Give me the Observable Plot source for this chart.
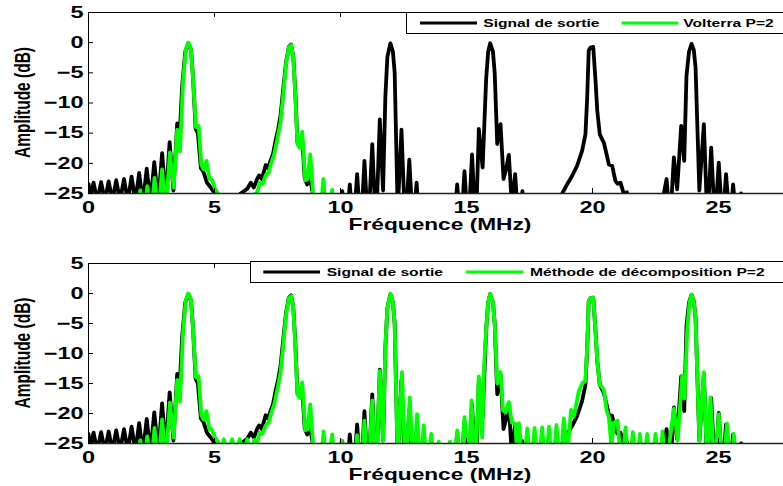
<!DOCTYPE html>
<html><head><meta charset="utf-8">
<script src="https://cdn.jsdelivr.net/npm/d3@7"></script>
<script src="https://cdn.jsdelivr.net/npm/@observablehq/plot@0.6"></script>
<style>
html,body{margin:0;padding:0;background:#fff;overflow:hidden;}
#chart{width:783px;}
#chart svg{display:block;overflow:hidden;}
</style></head><body><div id="chart"></div>
<script>
const xTicks = [0, 5, 10, 15, 20, 25];
const yTicks = [5, 0, -5, -10, -15, -20, -25];
const xLabel = "Fréquence (MHz)";
const yLabel = "Amplitude (dB)";
const legendTop = ["Signal de sortie", "Volterra P=2"];
const legendBottom = ["Signal de sortie", "Méthode de décomposition P=2"];

// [frequency MHz, amplitude dB] — values below -25 dB fall outside the axes
const signalSortie = [
[0.00,-23.4],[0.07,-25.8],[0.20,-23.2],[0.35,-26.2],[0.50,-23.1],[0.65,-26.2],[0.80,-23.0],[0.95,-26.2],[1.10,-22.8],[1.25,-26.2],[1.41,-22.6],[1.56,-26.3],[1.71,-22.2],[1.86,-26.3],[2.01,-21.6],[2.16,-26.5],[2.31,-20.9],[2.46,-26.5],[2.61,-19.8],[2.77,-26.5],[2.92,-18.3],[3.07,-26],[3.22,-16.5],[3.37,-24.5],[3.52,-13.4],[3.62,-15.2],[3.72,-7],[3.84,-1.5],[3.96,-0.1],[4.07,-1.2],[4.15,-6],[4.25,-14.2],[4.34,-15.0],[4.46,-20.8],[4.56,-21.4],[4.70,-23.2],[4.85,-24.0],[5.05,-25.2],[5.25,-28],[5.6,-32],[5.9,-28],
[6.03,-25.0],[6.18,-24.6],[6.30,-24.2],[6.44,-23.2],[6.56,-24.0],[6.70,-22.5],[6.77,-22.0],[6.88,-22.6],[7.03,-20.3],[7.12,-20.8],[7.22,-19.6],[7.32,-18.5],[7.42,-16.3],[7.52,-14.5],[7.62,-12.1],[7.72,-8],[7.84,-3.2],[7.95,-0.7],[8.04,-0.3],[8.13,-2.5],[8.21,-8.5],[8.29,-16.5],[8.38,-17.2],[8.47,-15.2],[8.58,-22.5],[8.68,-23.5],[8.80,-22.5],[8.92,-25.5],[9.05,-29],[9.5,-32],[9.9,-30],
[10.07,-24.6],[10.22,-31],[10.37,-23.5],[10.51,-31],[10.66,-21.8],[10.81,-31],[10.95,-19.6],[11.10,-31],[11.26,-16.8],[11.41,-31],[11.56,-12.7],[11.69,-24.5],[11.78,-9],[11.86,-2.4],[11.98,-0.1],[12.08,-1.5],[12.15,-5],[12.27,-28],[12.42,-14.4],[12.57,-31],[12.73,-19.4],[12.88,-31],[13.02,-23.2],[13.15,-31],[13.5,-33],[14.0,-33],[14.48,-31],
[14.63,-23.5],[14.78,-31],[14.92,-21.3],[15.07,-31],[15.22,-18.5],[15.37,-31],[15.49,-14.3],[15.64,-20.7],[15.78,-6],[15.86,-1.5],[15.94,-0.1],[16.05,-1.5],[16.12,-5],[16.22,-16.8],[16.35,-13.5],[16.47,-22.6],[16.57,-21],[16.68,-18.6],[16.80,-27],[16.93,-21.8],[17.06,-30],[17.22,-24.6],[17.35,-31],[18.0,-33],[18.6,-28],
[18.80,-25.0],[18.99,-23.5],[19.19,-22.1],[19.39,-20.4],[19.59,-17.9],[19.72,-15.2],[19.79,-9.1],[19.85,-1.3],[19.92,-0.8],[20.03,-0.7],[20.12,-6.3],[20.19,-11.3],[20.29,-15.2],[20.45,-16.6],[20.56,-18.5],[20.65,-20.2],[20.78,-20.4],[20.91,-22.9],[21.00,-23.4],[21.11,-23.2],[21.24,-25.0],[21.37,-24.8],[21.5,-28],[22.0,-33],[22.6,-30],
[22.94,-22.6],[23.08,-30],[23.23,-19.0],[23.36,-24.3],[23.52,-13.8],[23.64,-19.6],[23.73,-5.5],[23.83,-1.5],[23.93,-0.2],[24.02,-1.2],[24.09,-4.1],[24.24,-24.5],[24.42,-13.5],[24.56,-30],[24.71,-17.4],[24.86,-30],[25.01,-19.9],[25.16,-30],[25.30,-21.8],[25.45,-30],[25.58,-23.5],[25.72,-30],[25.90,-25.0],[26.05,-30],[27.58,-33]
];

const volterraP2 = [
[0,-33],[1.85,-30],[2.06,-24.5],[2.2,-29],[2.33,-23.8],[2.48,-29],[2.62,-22.4],[2.77,-29],[2.92,-21.0],[3.07,-28],[3.23,-18.2],[3.38,-24],[3.52,-14.4],[3.63,-18.0],[3.75,-6.5],[3.86,-1.2],[3.96,0],[4.06,-0.9],[4.15,-6],[4.26,-14],[4.37,-13.8],[4.48,-20.3],[4.57,-21.0],[4.68,-19.6],[4.80,-22.6],[4.90,-22.7],[5.02,-24.2],[5.18,-25.3],[5.35,-30],[6.0,-33],[6.45,-30],
[6.58,-25.2],[6.70,-24.8],[6.80,-23.2],[6.92,-23.4],[7.03,-22.0],[7.15,-21.5],[7.25,-20.0],[7.38,-18.3],[7.50,-15.8],[7.62,-13.2],[7.72,-9],[7.84,-3.5],[7.95,-0.8],[8.05,-0.4],[8.13,-2.6],[8.21,-9],[8.29,-16.8],[8.38,-17.4],[8.48,-14.8],[8.60,-22.8],[8.69,-22.6],[8.80,-18.5],[8.92,-25.5],[9.05,-30],[9.17,-30],[9.32,-22.6],[9.46,-30],[9.67,-24.4],[9.8,-30],[12,-33],[27.58,-33]
];

const decompositionP2 = [
[0,-33],[1.85,-30],[2.06,-24.5],[2.2,-29],[2.33,-23.8],[2.48,-29],[2.62,-22.4],[2.77,-29],[2.92,-21.0],[3.07,-28],[3.23,-18.2],[3.38,-24],[3.52,-14.4],[3.63,-18.0],[3.75,-6.5],[3.86,-1.2],[3.96,0],[4.06,-0.9],[4.15,-6],[4.26,-14],[4.37,-13.8],[4.48,-20.3],[4.57,-21.0],[4.68,-19.6],[4.80,-22.6],[4.90,-22.7],[5.02,-24.0],[5.15,-24.8],[5.26,-26.5],[5.37,-24.3],[5.53,-26.5],[5.70,-24.3],[5.85,-26.5],[6.00,-24.3],[6.15,-26.5],[6.30,-24.3],[6.45,-26.5],
[6.58,-24.4],[6.68,-25.5],[6.78,-23.2],[6.90,-23.4],[7.03,-22.0],[7.15,-21.5],[7.25,-20.0],[7.38,-18.3],[7.50,-15.8],[7.62,-13.2],[7.72,-9],[7.84,-3.5],[7.95,-0.8],[8.05,-0.4],[8.13,-2.6],[8.21,-9],[8.29,-16.8],[8.38,-17.4],[8.48,-14.8],[8.60,-22.8],[8.69,-22.6],[8.80,-18.5],[8.92,-25.5],[9.05,-30],[9.18,-30],[9.33,-23.0],[9.47,-30],[9.67,-23.5],[9.82,-30],[10.05,-24.5],[10.2,-30],
[10.51,-31],[10.66,-23.6],[10.81,-31],[10.95,-21.2],[11.10,-31],[11.26,-17.8],[11.41,-31],[11.56,-12.9],[11.69,-24.5],[11.78,-9],[11.86,-2.4],[11.98,-0.1],[12.08,-1.5],[12.15,-5],[12.27,-28],[12.44,-13.1],[12.58,-30],[12.75,-17.3],[12.90,-30],[13.04,-20.1],[13.17,-30],[13.30,-22.0],[13.45,-30],[13.60,-23.4],[13.75,-30],[13.90,-24.7],[14.05,-30],[14.20,-30],[14.34,-24.7],[14.48,-30],
[14.63,-22.8],[14.78,-30],[14.92,-20.6],[15.07,-30],[15.20,-17.8],[15.35,-30],[15.49,-13.8],[15.62,-24.0],[15.70,-12],[15.78,-6],[15.86,-1.5],[15.94,-0.1],[16.05,-1.5],[16.12,-5],[16.22,-15.0],[16.35,-13.1],[16.45,-19.5],[16.55,-19.8],[16.68,-18.1],[16.80,-21.5],[16.94,-21.7],[17.01,-27],
[17.08,-21.6],[17.25,-30],[17.41,-22.5],[17.56,-30],[17.70,-22.4],[17.85,-30],[18.00,-22.3],[18.14,-30],[18.27,-22.2],[18.42,-30],[18.57,-21.9],[18.72,-30],[18.86,-20.8],[19.0,-27],
[19.15,-19.4],[19.26,-20.5],[19.46,-16.2],[19.59,-15.0],[19.72,-14.5],[19.79,-9],[19.85,-1.3],[19.92,-0.8],[20.03,-0.7],[20.12,-6.3],[20.19,-11.3],[20.29,-15.2],[20.45,-16.0],[20.56,-19.5],[20.65,-20.6],[20.75,-25.5],[20.85,-21.5],[21.0,-21.2],[21.15,-30],[21.31,-22.3],[21.45,-30],[21.60,-23.1],[21.74,-30],[21.88,-23.4],[22.02,-30],[22.17,-23.4],[22.32,-30],[22.50,-23.4],[22.64,-30],[22.78,-23.0],[22.92,-30],
[23.05,-25],[23.23,-19.2],[23.38,-24.5],[23.56,-13.7],[23.65,-17.5],[23.76,-6],[23.85,-1.5],[23.93,-0.2],[24.02,-1.2],[24.09,-4.1],[24.24,-24.5],[24.42,-13.1],[24.56,-30],[24.68,-17.3],[24.85,-30],[25.01,-20.1],[25.16,-30],[25.34,-21.7],[25.48,-30],[25.61,-23.4],[25.74,-30],[27.58,-33]
];

const FONT = "'Liberation Sans', Arial, Helvetica, sans-serif";
const STRETCH = 1.42;
const GREEN = "#00ff00";
const X_MAX = 27.58;

function stretchTexts(svg) {
  svg.querySelectorAll("text").forEach(t => {
    const tr = t.getAttribute("transform");
    if (tr) {
      if (!/rotate|scale/.test(tr)) t.setAttribute("transform", tr + ` scale(${STRETCH},1)`);
    } else {
      const x = parseFloat(t.getAttribute("x") || 0) || 0;
      const y = parseFloat(t.getAttribute("y") || 0) || 0;
      t.removeAttribute("x"); t.removeAttribute("y");
      t.setAttribute("transform", `translate(${x},${y}) scale(${STRETCH},1)`);
    }
  });
}

function panel({green, legend, height, marginTop, marginBottom, leg}) {
  const frameH = height - marginTop - marginBottom;
  const frameW = 783 - 88;
  const xy = {x: d => d[0], y: d => d[1]};
  const svg = Plot.plot({
    width: 783, height, marginLeft: 88, marginRight: 0, marginTop, marginBottom,
    style: {fontFamily: FONT, fontWeight: "bold", fontSize: "16.5px", color: "#000", background: "#fff", overflow: "hidden"},
    x: {domain: [0, X_MAX], ticks: xTicks, tickSize: 0, tickPadding: 8, label: null, tickFormat: d => String(d)},
    y: {domain: [-25, 5], ticks: yTicks, tickSize: 0, tickPadding: 5, label: null},
    marks: [
      Plot.line(signalSortie, {...xy, stroke: "#000", strokeWidth: 3.8, strokeLinejoin: "round", strokeLinecap: "round", clip: true}),
      Plot.line(green, {...xy, stroke: GREEN, strokeWidth: 3.8, strokeLinejoin: "round", strokeLinecap: "round", clip: true}),
      Plot.ruleY([5], {stroke: "#000", strokeWidth: 1}),
      Plot.ruleY([-25], {stroke: "#222", strokeWidth: 1.4}),
      Plot.ruleX([0], {stroke: "#000", strokeWidth: 1}),
      Plot.ruleX(xTicks, {x: d => d, insetTop: frameH - 5, stroke: "#000"}),
      Plot.ruleX(xTicks, {x: d => d, insetBottom: frameH - 5, stroke: "#000"}),
      Plot.ruleY(yTicks, {y: d => d, insetRight: frameW - 5, stroke: "#000"})
    ]
  });
  document.getElementById("chart").appendChild(svg);
  stretchTexts(svg);
  const s = d3.select(svg);
  // axis titles
  s.append("text").attr("text-anchor", "middle")
    .attr("transform", `translate(440,230) scale(${STRETCH},1)`)
    .attr("font-family", FONT).attr("font-weight", "bold").attr("font-size", 16).attr("fill", "#000")
    .text(xLabel);
  s.append("text").attr("text-anchor", "middle")
    .attr("transform", `translate(29.5,${marginTop + frameH / 2}) rotate(-90) scale(1,${STRETCH})`)
    .attr("font-family", FONT).attr("font-weight", "bold").attr("font-size", 15.5).attr("fill", "#000")
    .text(yLabel);
  // legend
  const g = s.append("g").attr("text-anchor", "start");
  g.append("rect").attr("x", leg.x0).attr("y", leg.y0).attr("width", 800 - leg.x0).attr("height", 21)
    .attr("fill", "#fff").attr("stroke", "#000").attr("stroke-width", 1);
  const colors = ["#000", GREEN];
  legend.forEach((lab, i) => {
    g.append("line").attr("x1", leg.lines[i][0]).attr("x2", leg.lines[i][1])
      .attr("y1", leg.lineY).attr("y2", leg.lineY).attr("stroke", colors[i]).attr("stroke-width", 3);
    g.append("text").attr("text-anchor", "start")
      .attr("transform", `translate(${leg.texts[i]},${leg.textY}) scale(${STRETCH},1)`)
      .attr("font-family", FONT).attr("font-weight", "bold").attr("font-size", 11).attr("fill", "#000")
      .text(lab);
  });
}

panel({green: volterraP2, legend: legendTop, height: 250, marginTop: 12, marginBottom: 57,
  leg: {x0: 406.5, y0: 12.5, lines: [[420, 477], [621.7, 678.3]], texts: [483.3, 683.3], lineY: 23, textY: 27.3}});
panel({green: decompositionP2, legend: legendBottom, height: 236, marginTop: 13, marginBottom: 43,
  leg: {x0: 250.5, y0: 11.5, lines: [[263.3, 320], [466, 523.3]], texts: [326.7, 530], lineY: 22, textY: 26}});
</script>
</body></html>
